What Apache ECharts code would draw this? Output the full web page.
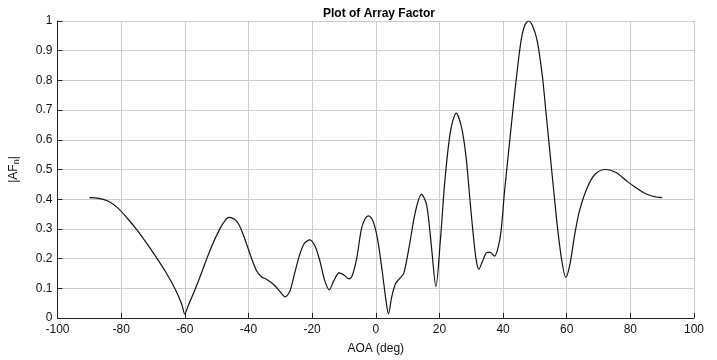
<!DOCTYPE html>
<html>
<head>
<meta charset="utf-8">
<script src="https://cdn.jsdelivr.net/npm/echarts@6/dist/echarts.min.js"></script>
<style>html,body{margin:0;padding:0;background:#fff}#c{width:717px;height:360px}</style>
</head>
<body>
<div id="c"></div>
<script>
var aoa = [-90,-87,-84,-81,-78,-75,-72,-69,-66,-63,-61,-60,-59,-57,-55,-52,-49,-47,-46,-44.5,-43,-41,-39,-37.5,-36,-34,-32,-30,-28.5,-27,-25.5,-24,-22.5,-20.7,-19,-17.5,-16,-14.6,-13.2,-11.5,-10,-8.5,-7.5,-6,-4.5,-3.3,-2.3,-1,0.5,2,3.2,4,5,6.2,7.5,8.8,10.5,12.5,14.4,16,17.5,18.9,20.3,21.7,23.5,25.3,27,28.4,29.5,30.5,31.5,32.4,33.5,35,36,37.3,38.5,39.4,40.5,41.7,42.7,44.1,45.6,46.8,48,49.3,50.8,52.4,53.6,54.8,56,57.1,58.5,59.7,61,62.5,64,66.5,69,72.2,75.5,79,82,84.2,87,90];
var afn = [0.405,0.403,0.393,0.37,0.335,0.296,0.252,0.205,0.155,0.097,0.048,0.013,0.04,0.09,0.145,0.23,0.3,0.333,0.339,0.333,0.315,0.262,0.2,0.16,0.14,0.128,0.112,0.088,0.071,0.09,0.15,0.21,0.25,0.263,0.24,0.19,0.125,0.095,0.125,0.152,0.145,0.132,0.14,0.2,0.3,0.335,0.344,0.33,0.27,0.16,0.06,0.014,0.07,0.115,0.133,0.15,0.24,0.36,0.416,0.38,0.24,0.106,0.26,0.46,0.63,0.69,0.64,0.54,0.41,0.295,0.2,0.164,0.19,0.221,0.221,0.208,0.24,0.295,0.43,0.555,0.66,0.8,0.93,0.985,1.0,0.983,0.93,0.81,0.68,0.55,0.42,0.305,0.19,0.137,0.18,0.28,0.36,0.44,0.485,0.5,0.49,0.46,0.437,0.422,0.41,0.405];
var chartTitle = 'Plot of Array Factor';
var xName = 'AOA (deg)';

var pts = aoa.map(function(x, i){ return [x, afn[i]]; });
var font = '"Liberation Sans", Arial, Helvetica, sans-serif';
var chart = echarts.init(document.getElementById('c'), null, {renderer: 'canvas'});
chart.setOption({
  animation: false,
  backgroundColor: '#fff',
  title: {text: chartTitle, left: 374, top: 3, textAlign: 'center',
    textStyle: {fontSize: 12, fontWeight: 'bold', color: '#000', fontFamily: font}},
  grid: {left: 54, right: 23, top: 21, bottom: 38, containLabel: false},
  xAxis: {type: 'value', min: -100, max: 100, interval: 20,
    name: xName, nameLocation: 'middle', nameGap: 25,
    nameTextStyle: {fontSize: 12, color: '#111', fontFamily: font},
    axisLine: {onZero: false, lineStyle: {color: '#222', width: 1}},
    axisTick: {inside: true, length: 5, lineStyle: {color: '#222'}},
    axisLabel: {fontSize: 12, color: '#111', margin: 6, fontFamily: font},
    splitLine: {show: true, lineStyle: {color: '#cccccc', width: 1}}},
  yAxis: {type: 'value', min: 0, max: 1, interval: 0.1,
    name: '|AF{sub|n}|', nameLocation: 'middle', nameGap: 36, nameRotate: 90,
    nameTextStyle: {fontSize: 12, color: '#111', fontFamily: font,
      rich: {sub: {fontSize: 9, color: '#111', fontFamily: font, verticalAlign: 'bottom', padding: [6, 0, 0, 0]}}},
    axisLine: {show: true, onZero: false, lineStyle: {color: '#222', width: 1}},
    axisTick: {show: true, inside: true, length: 5, lineStyle: {color: '#222'}},
    axisLabel: {fontSize: 12, color: '#111', margin: 5, fontFamily: font,
      formatter: function(v){ return String(+v.toFixed(1)); }},
    splitLine: {show: true, lineStyle: {color: '#cccccc', width: 1}}},
  series: [{type: 'line', data: pts, showSymbol: false, smooth: 0.3,
    lineStyle: {color: '#111', width: 1.2}}]
});
</script>
</body>
</html>
